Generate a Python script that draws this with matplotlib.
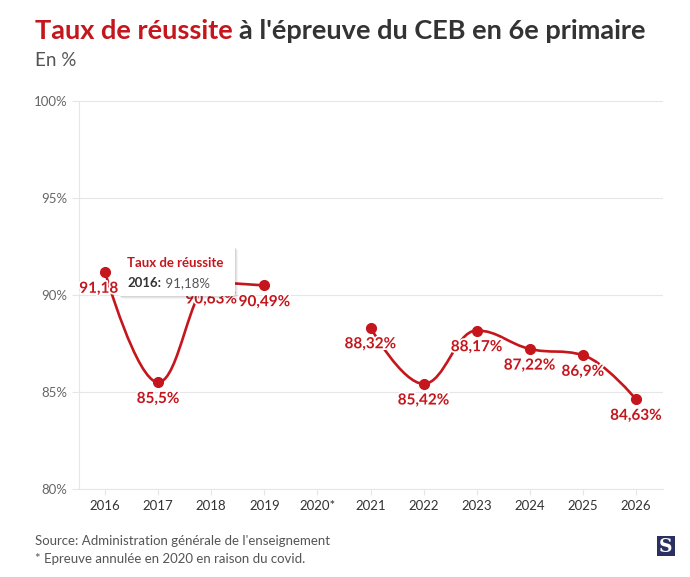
import numpy as np
import matplotlib.pyplot as plt
from matplotlib.path import Path
from matplotlib.patches import PathPatch, FancyBboxPatch, Polygon, Rectangle
import matplotlib.patheffects as pe

plt.rcParams['font.family'] = ['Lato', 'DejaVu Sans']

years = ['2016', '2017', '2018', '2019', '2020*', '2021', '2022', '2023', '2024', '2025', '2026']
rates = [91.18, 85.5, 90.63, 90.49, None, 88.32, 85.42, 88.17, 87.22, 86.9, 84.63]
labels = ['91,18%', '85,5%', '90,63%', '90,49%', '', '88,32%', '85,42%', '88,17%', '87,22%', '86,9%', '84,63%']
yticks = [80, 85, 90, 95, 100]

RED = '#c4161c'
DARK = '#333333'
GREY = '#666666'


def spline_segment_path(xs, ys, smoothing=1.5):
    # highcharts like spline through a run of points
    n = len(xs)
    denom = smoothing + 1
    left = [(x, y) for x, y in zip(xs, ys)]
    right = [(x, y) for x, y in zip(xs, ys)]
    for i in range(1, n - 1):
        x, y = xs[i], ys[i]
        lx, ly = xs[i - 1], ys[i - 1]
        nx, ny = xs[i + 1], ys[i + 1]
        lcx = (smoothing * x + lx) / denom
        lcy = (smoothing * y + ly) / denom
        rcx = (smoothing * x + nx) / denom
        rcy = (smoothing * y + ny) / denom
        corr = (rcy - lcy) * (rcx - x) / (rcx - lcx) + y - rcy
        lcy += corr
        rcy += corr
        if lcy > ly and lcy > y:
            lcy = max(ly, y)
            rcy = 2 * y - lcy
        elif lcy < ly and lcy < y:
            lcy = min(ly, y)
            rcy = 2 * y - lcy
        if rcy > ny and rcy > y:
            rcy = max(ny, y)
            lcy = 2 * y - rcy
        elif rcy < ny and rcy < y:
            rcy = min(ny, y)
            lcy = 2 * y - rcy
        left[i] = (lcx, lcy)
        right[i] = (rcx, rcy)
    verts = [(xs[0], ys[0])]
    codes = [Path.MOVETO]
    for i in range(1, n):
        verts += [right[i - 1], left[i], (xs[i], ys[i])]
        codes += [Path.CURVE4] * 3
    return Path(verts, codes)


fig = plt.figure(figsize=(6.9, 5.77), dpi=100)
ax = fig.add_axes([78.5 / 690, 1 - 489 / 577, 584 / 690, 388 / 577])

x = np.arange(len(years))

# split into runs without the missing year
runs = []
cur = []
for i, v in enumerate(rates):
    if v is None:
        if cur:
            runs.append(cur)
        cur = []
    else:
        cur.append(i)
if cur:
    runs.append(cur)

for run in runs:
    path = spline_segment_path([x[i] for i in run], [rates[i] for i in run])
    ax.add_patch(PathPatch(path, facecolor='none', edgecolor=RED, lw=1.9, zorder=3, capstyle='round'))

for i, v in enumerate(rates):
    if v is None:
        continue
    ax.plot(x[i], v, 'o', color=RED, ms=7, zorder=4)
    ax.annotate(labels[i], (x[i], v), xytext=(0, -12), textcoords='offset points',
                ha='center', va='center', fontsize=11, fontweight='bold', color=RED, zorder=5,
                path_effects=[pe.withStroke(linewidth=2.5, foreground='white')])

ax.set_xlim(-0.5, len(years) - 0.5)
ax.set_ylim(80, 100)
ax.set_yticks(yticks)
ax.set_yticklabels([f'{t}%' for t in yticks])
ax.set_xticks(x)
ax.set_xticklabels(years)
ax.grid(axis='y', color='#e6e6e6', lw=0.8)
ax.set_axisbelow(True)
for s in ['top', 'right']:
    ax.spines[s].set_visible(False)
ax.spines['left'].set_color('#e6e6e6')
ax.spines['left'].set_linewidth(0.8)
ax.spines['bottom'].set_color('#e6e6e6')
ax.spines['bottom'].set_linewidth(0.8)
ax.tick_params(axis='y', length=5, color='#e6e6e6', labelcolor=GREY, labelsize=9.5, pad=3)
ax.tick_params(axis='x', length=4, color='#e6e6e6', labelcolor=DARK, labelsize=9.5, pad=4)

# tooltip on 2016
px, py = fig.transFigure.inverted().transform(ax.transData.transform((x[0], rates[0])))
W, H = 690, 577
bx0, by0 = px + 13 / W, py - 24 / H
bw, bh = 117 / W, 50 / H
for k, a in [(3, 0.04), (2, 0.06), (1, 0.08)]:
    shadow = FancyBboxPatch((bx0 + k / W, by0 - k / H), bw, bh, boxstyle='round,pad=0,rounding_size=0.004',
                            transform=fig.transFigure, facecolor='#000000', alpha=a, edgecolor='none', zorder=10)
    fig.patches.append(shadow)
box = FancyBboxPatch((bx0, by0), bw, bh, boxstyle='round,pad=0,rounding_size=0.004',
                     transform=fig.transFigure, facecolor='white', edgecolor='none', zorder=11)
arrow = Polygon([(bx0 + 0.5 / W, py + 8 / H), (px + 3 / W, py + 8 / H), (bx0 + 0.5 / W, py - 6 / H)],
                closed=True, transform=fig.transFigure, facecolor='white', edgecolor='none', zorder=11)
fig.patches.extend([box, arrow])
fig.text(bx0 + 9 / W, by0 + bh - 17 / H, 'Taux de réussite', color=RED, fontsize=9.5,
         fontweight='bold', zorder=12, va='center')
fig.text(bx0 + 9 / W, by0 + bh - 37 / H, '2016:', color=DARK, fontsize=9.5,
         fontweight='bold', zorder=12, va='center')
fig.text(bx0 + 44 / W, by0 + bh - 37 / H, ' 91,18%', color='#555555', fontsize=9.5, zorder=12, va='center')

# title
t = fig.text(35 / W, 1 - 31 / H, 'Taux de réussite', color=RED, fontsize=19.5, fontweight='bold', va='center')
fig.canvas.draw()
bb = t.get_window_extent()
fig.text(bb.x1 / W + 6 / W, 1 - 31 / H, "à l'épreuve du CEB en 6e primaire", color=DARK,
         fontsize=19.5, fontweight='bold', va='center')
fig.text(35 / W, 1 - 61 / H, 'En %', color='#555555', fontsize=13.5, va='center')

fig.text(35 / W, 1 - 541 / H, "Source: Administration générale de l'enseignement", color='#555555', fontsize=9.5, va='center')
fig.text(35 / W, 1 - 559 / H, '* Epreuve annulée en 2020 en raison du covid.', color='#555555', fontsize=9.5, va='center')

# logo
fig.patches.append(Rectangle((657 / W, 1 - 556 / H), 18 / W, 20 / H, transform=fig.transFigure,
                             facecolor='#2a3160', edgecolor='none'))
fig.text(666 / W, 1 - 546.5 / H, 'S', color='white', fontsize=13.5, fontweight='bold',
         family='DejaVu Serif', ha='center', va='center')

fig.savefig('out.png', dpi=100)
